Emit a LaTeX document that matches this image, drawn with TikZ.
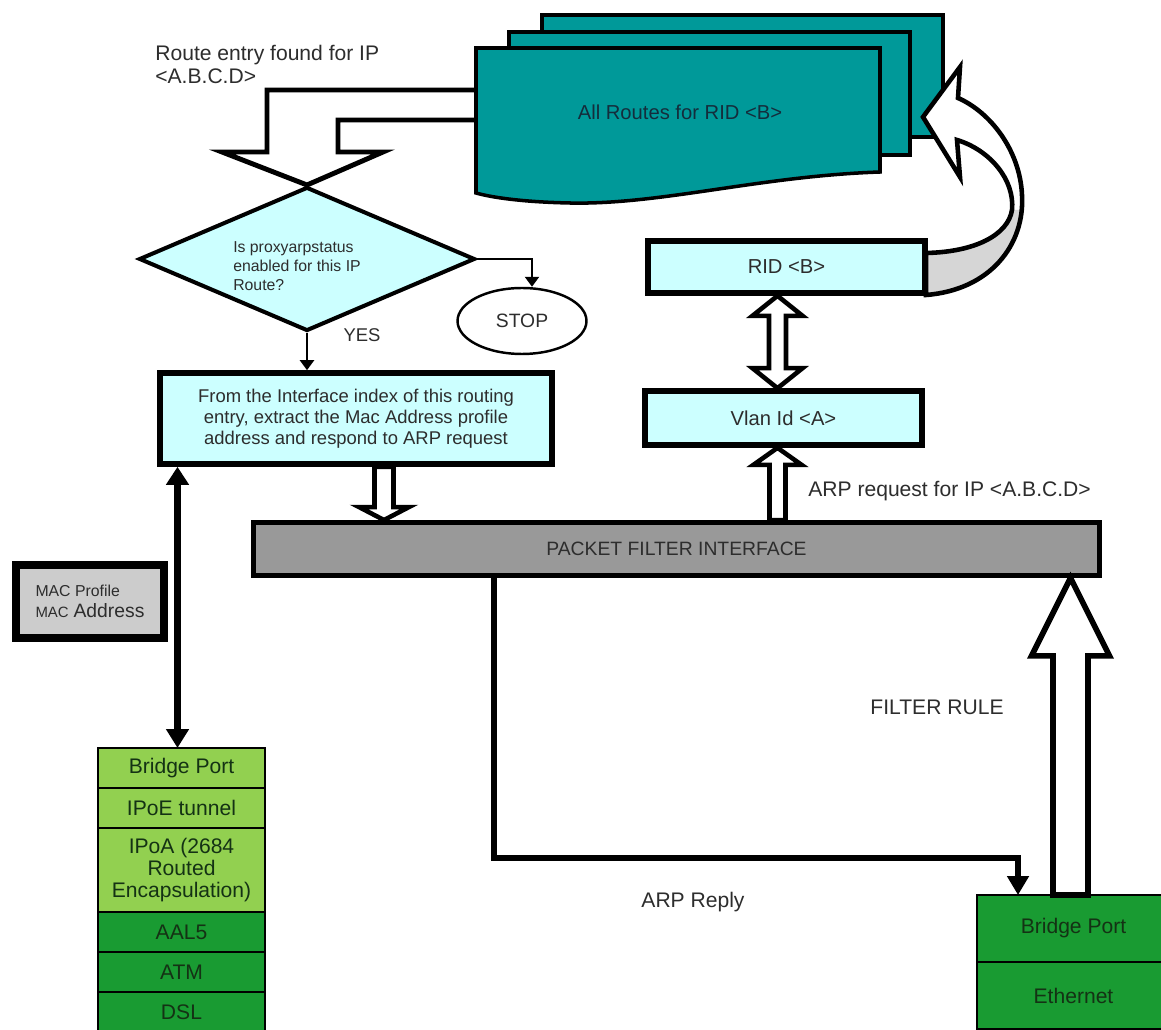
\documentclass[tikz,border=0pt]{standalone}
\usepackage{fontspec}
\setmainfont{Liberation Sans}
\usetikzlibrary{positioning, calc, shapes.geometric, arrows.meta}
\definecolor{routeteal}{RGB}{0,153,153}
\definecolor{doctext}{RGB}{20,45,60}
\definecolor{boxcyan}{RGB}{204,255,255}
\definecolor{pfgray}{RGB}{153,153,153}
\definecolor{macgray}{RGB}{204,204,204}
\definecolor{foldgray}{RGB}{214,214,214}
\definecolor{lightgreen}{RGB}{146,208,80}
\definecolor{darkgreen}{RGB}{25,155,50}
\definecolor{labelgray}{RGB}{45,45,45}
\definecolor{rowtext}{RGB}{20,50,20}
\tikzset{
  infobox/.style={draw, line width=3.2pt, fill=boxcyan, inner sep=0pt, align=center, text=labelgray},
  stackrow/.style={draw, line width=1.4pt, outer sep=0pt, inner sep=0pt, minimum width=3.34cm,
                   minimum height=0.8cm, align=center, text=rowtext, font=\fontsize{12}{12.5}\selectfont},
  docsheet/.style={draw, line width=2pt, fill=routeteal},
  thinflow/.style={line width=1.3pt, -{Triangle[length=0.2cm, width=0.28cm]}},
  boldflow/.style={line width=3.6pt, -{Triangle[length=0.38cm, width=0.42cm]}},
  boldboth/.style={line width=4pt, {Triangle[length=0.36cm, width=0.44cm]}-{Triangle[length=0.38cm, width=0.44cm]}},
  blockarrow/.style={draw, line width=2.6pt, fill=white},
  lbl/.style={font=\fontsize{12}{13.5}\selectfont, text=labelgray, inner sep=0pt},
}
% vertical block arrow: [style] start, tip, half shaft, half head, head length
\newcommand{\vblock}[6][]{%
  \draw[blockarrow,#1] let \p1=(#2), \p2=(#3) in
    ({\x1-#4},\y1) -- ({\x1-#4},{\y2-(#6)}) -- ({\x1-#5},{\y2-(#6)}) -- (\x1,\y2)
    -- ({\x1+#5},{\y2-(#6)}) -- ({\x1+#4},{\y2-(#6)}) -- ({\x1+#4},\y1) -- cycle;}
\newcommand{\ridcurve}{(926,295) .. controls (990,290) and (1025,245) .. (1022,195)
  .. controls (1020,150) and (990,112) .. (958,98) -- (960,67) -- (923,117) -- (960,177) -- (957,140)
  .. controls (990,150) and (1015,180) .. (1012,210) .. controls (1008,235) and (975,252) .. (926,253)}

\begin{document}
\begin{tikzpicture}[x=0.02cm, y=-0.02cm]
  \path[use as bounding box, fill=white] (0,0) rectangle (1161,1030);

  % elbow arrow from the route table down to the decision
  \node[diamond, draw, line width=2.3pt, fill=boxcyan, minimum width=6.72cm, minimum height=2.88cm,
        inner sep=0pt, aspect=2.3] (dia) at (307,259) {};
  \draw[blockarrow, line width=2.8pt] (482,120) -- (338,120) -- (338,152) -- (383,152) -- (dia.north)
    -- (222,152) -- (267,152) -- (267,90) -- (482,90);
  \node[font=\fontsize{9}{10.8}\selectfont, align=left, text=labelgray] (diatext) at (297,266)
    {Is proxyarpstatus\\enabled for this IP\\Route?};

  % route table stack
  \draw[docsheet] (542,15) rectangle (943,137);
  \draw[docsheet] (509,32) rectangle (910,155);
  \draw[docsheet] (476,48) -- (880,48) -- (880,172) .. controls (760,176) and (660,205) .. (570,203)
    .. controls (520,202) and (490,197) .. (476,193) -- cycle;
  \node[font=\fontsize{11.5}{12}\selectfont, text=doctext] (routes) at (680,112) {All Routes for RID <B>};
  \node[lbl, anchor=west, align=left] (found) at (155,64.5) {Route entry found for IP\\<A.B.C.D>};

  % curved arrow from RID back to the routes
  \fill[white] \ridcurve -- cycle;
  \begin{scope}
    \clip \ridcurve -- cycle;
    \fill[foldgray] (926,253) .. controls (975,252) and (1008,235) .. (1012,210) -- (1040,210)
      -- (1040,310) -- (920,310) -- cycle;
  \end{scope}
  \draw[line width=2.6pt] \ridcurve -- cycle;

  \node[ellipse, draw, line width=1.4pt, minimum width=2.58cm, minimum height=1.32cm,
        font=\fontsize{11}{12}\selectfont, text=labelgray] (stop) at (522,321) {STOP};
  \node[lbl, font=\fontsize{10.5}{12}\selectfont] (yes) at (362,335) {YES};
  \node[infobox, minimum width=7.84cm, minimum height=1.82cm, font=\fontsize{10.5}{12}\selectfont] (main)
    at (356,418.5) {From the Interface index of this routing\\entry, extract the Mac Address profile\\address and respond to ARP request};
  \node[infobox, minimum width=5.54cm, minimum height=1.04cm, font=\fontsize{11.5}{12}\selectfont] (rid)
    at (786.5,267) {RID <B>};
  \node[infobox, minimum width=5.54cm, minimum height=1.08cm, font=\fontsize{11.5}{12}\selectfont] (vlan)
    at (783.5,418) {Vlan Id <A>};
  \node[draw, line width=2.8pt, fill=pfgray, minimum width=16.92cm, minimum height=1.06cm, inner sep=0pt,
        font=\fontsize{11}{12}\selectfont, text=labelgray] (pf) at (676.5,549) {PACKET FILTER INTERFACE};
  \node[draw, line width=4.5pt, fill=macgray, minimum width=2.96cm, minimum height=1.46cm, align=left,
        inner sep=0pt, text=labelgray] (mac) at (90,601.5)
    {{\fontsize{9}{11}\selectfont MAC Profile}\\{\fontsize{8.5}{11}\selectfont MAC} {\fontsize{11}{11}\selectfont Address}};

  % port stacks
  \node[stackrow, fill=lightgreen] (bp1) at (181.5,768) {Bridge Port};
  \node[stackrow, fill=lightgreen, below=0pt of bp1] (ipoe) {IPoE tunnel};
  \node[stackrow, fill=lightgreen, below=0pt of ipoe, minimum height=1.68cm] (ipoa) {IPoA (2684\\Routed\\Encapsulation)};
  \node[stackrow, fill=darkgreen, below=0pt of ipoa] (aal) {AAL5};
  \node[stackrow, fill=darkgreen, below=0pt of aal] (atm) {ATM};
  \node[stackrow, fill=darkgreen, below=0pt of atm] (dsl) {DSL};
  \node[stackrow, fill=darkgreen, minimum width=3.86cm, minimum height=1.34cm] (ebp) at (1073.5,928.5) {Bridge Port};
  \node[stackrow, fill=darkgreen, minimum width=3.86cm, minimum height=1.34cm, below=0pt of ebp] (eth) {Ethernet};

  \node[lbl, anchor=west] (arpreq) at (808,491) {ARP request for IP <A.B.C.D>};
  \node[lbl] (rule) at (937,707) {FILTER RULE};
  \node[lbl] (reply) at (693,902) {ARP Reply};

  % connectors
  \draw[thinflow] (dia.east) -| ($(stop.north)+(10,0)$);
  \draw[thinflow] (dia.south) -- (dia.south |- main.north);

  \coordinate (mainout) at ($(main.south)+(28,0)$);
  \vblock{mainout}{mainout |- pf.north}{0.19cm}{0.5cm}{-0.26cm}
  \coordinate (vlanin) at ($(vlan.south)+(-6,0)$);
  \vblock{vlanin |- pf.north}{vlanin}{0.16cm}{0.48cm}{0.34cm}
  \coordinate (rulebase) at ($(ebp.north)+(-3,0)$);
  \vblock[line width=3.2pt]{rulebase}{rulebase |- pf.south}{0.35cm}{0.78cm}{1.56cm}

  \coordinate (ridlink) at ($(rid.south)+(-9,0)$);
  \draw[blockarrow] let \p1=(ridlink), \p2=(ridlink |- vlan.north) in
    (\x1,\y1) -- ({\x1+0.5cm},{\y1-0.4cm}) -- ({\x1+0.17cm},{\y1-0.4cm}) -- ({\x1+0.17cm},{\y2+0.4cm})
    -- ({\x1+0.5cm},{\y2+0.4cm}) -- (\x1,\y2) -- ({\x1-0.5cm},{\y2+0.4cm}) -- ({\x1-0.17cm},{\y2+0.4cm})
    -- ({\x1-0.17cm},{\y1-0.4cm}) -- ({\x1-0.5cm},{\y1-0.4cm}) -- cycle;

  \coordinate (portlink) at ($(bp1.north)+(-4,0)$);
  \draw[boldboth] (portlink |- main.south) -- (portlink);

  \coordinate (replyout) at ($(pf.south west)+(243,0)$);
  \coordinate (replyin) at ($(ebp.north west)+(41,0)$);
  \draw[boldflow] (replyout) -- ++(0,280) -| (replyin);
\end{tikzpicture}
\end{document}
